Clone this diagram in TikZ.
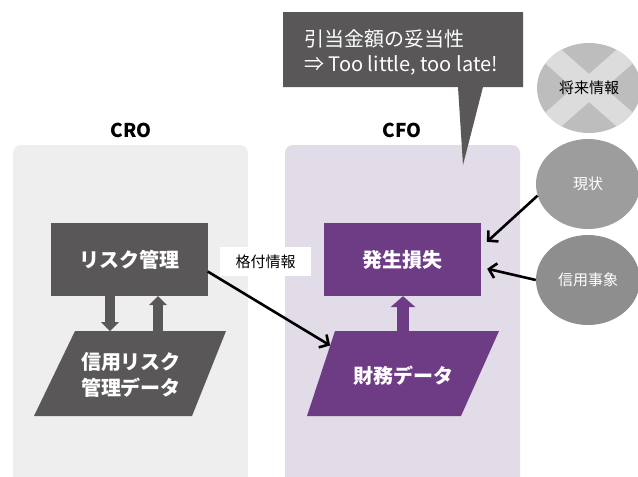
\documentclass[tikz,border=0pt]{standalone}
\usepackage{fontspec}
\setmainfont{Noto Sans CJK JP}
\usetikzlibrary{arrows.meta,shapes.geometric,calc}
\definecolor{dgray}{HTML}{595757}
\definecolor{purp}{HTML}{6E3B85}
\definecolor{lgpanel}{HTML}{EEEEEE}
\definecolor{lppanel}{HTML}{E2DBE8}
\definecolor{cfut}{HTML}{BDBDBD}
\definecolor{cx}{HTML}{DCDCDC}
\definecolor{cnow}{HTML}{9D9D9D}
\definecolor{cevt}{HTML}{8E8E8E}
\tikzset{
  panel/.style={rounded corners=8pt},
  title/.style={font=\fontsize{19}{22}\selectfont\bfseries, text=black},
  procbox/.style={minimum width=157pt, minimum height=73pt, inner sep=0pt, text=white,
    font=\fontsize{20}{24}\selectfont\bfseries},
  datatext/.style={text=white, align=center, inner sep=0pt,
    font=\fontsize{20}{26}\selectfont\bfseries},
  bubble/.style={ellipse, minimum width=104pt, minimum height=90pt, inner sep=0pt,
    font=\fontsize{15}{18}\selectfont},
  thinarrow/.style={line width=2.6pt, -{Straight Barb[length=7pt,width=15pt,line width=2.6pt]}, shorten >=1pt},
  grayblock/.style={dgray, line width=10pt, -{Triangle[width=18pt,length=9pt,line width=0pt]}},
  purpblock/.style={purp, line width=12pt, -{Triangle[width=25pt,length=11pt,line width=0pt]}},
}
\begin{document}
\begin{tikzpicture}[x=1pt,y=-1pt]
\useasboundingbox (0,0) rectangle (638,477);
% panels
\fill[lgpanel, panel] (13,145) rectangle (248,495);
\fill[lppanel, panel] (285,145) rectangle (520,495);
\node[title] (cro) at (131,130) {CRO};
\node[title] (cfo) at (402,130) {CFO};
% process boxes
\node[procbox, fill=dgray] (risk) at (129,259.5) {リスク管理};
\node[procbox, fill=purp] (loss) at (402.5,259.5) {発生損失};
% data parallelograms
\fill[dgray] (75,331) -- (226,331) -- (192,416) -- (34,416) -- cycle;
\coordinate (crmtop) at (130,331);
\node[datatext] (crm) at (131,375) {信用リスク\\管理データ};
\fill[purp] (335,331) -- (499,331) -- (461,416) -- (307,416) -- cycle;
\coordinate (fintop) at (403,331);
\coordinate (finin) at (331,346);
\node[datatext] (fin) at (403,376) {財務データ};
% block arrows
\draw[grayblock] ([xshift=-19pt]risk.south) -- ([xshift=-19pt]risk.south |- crmtop);
\draw[grayblock] ([xshift=29pt]risk.south |- crmtop) -- ([xshift=29pt]risk.south);
\draw[purpblock] (fintop) -- (fintop |- loss.south);
% rating info
\node[fill=white, minimum width=91pt, minimum height=29pt, inner sep=0pt,
  font=\fontsize{15}{18}\selectfont] (rating) at (265.5,261.5) {格付情報};
\draw[thinarrow] ($(risk.east)+(0,12)$) -- (finin);
% bubbles
\node[bubble, fill=cfut, text=black,
  path picture={
    \draw[cx, line width=21pt] ($(path picture bounding box.center)+(-42,-37)$) -- ($(path picture bounding box.center)+(42,37)$);
    \draw[cx, line width=21pt] ($(path picture bounding box.center)+(-42,37)$) -- ($(path picture bounding box.center)+(42,-37)$);
  }] (fut) at (589,88) {将来情報};
\node[bubble, fill=cnow, text=white] (now) at (588,184) {現状};
\node[bubble, fill=cevt, text=white] (evt) at (588,280) {信用事象};
\draw[thinarrow] (now.193) -- ($(loss.east)+(5,-17)$);
\draw[thinarrow] (evt.west) -- ($(loss.east)+(5,9)$);
% callout
\fill[dgray] (283,12) -- (523,12) -- (523,87) -- (483,87) -- (463,165) -- (458,87) -- (283,87) -- cycle;
\node[anchor=west, align=left, text=white, inner sep=0pt,
  font=\fontsize{20}{25}\selectfont] (callout) at (304,52.5) {引当金額の妥当性\\⇒ Too little, too late!};
\end{tikzpicture}
\end{document}
